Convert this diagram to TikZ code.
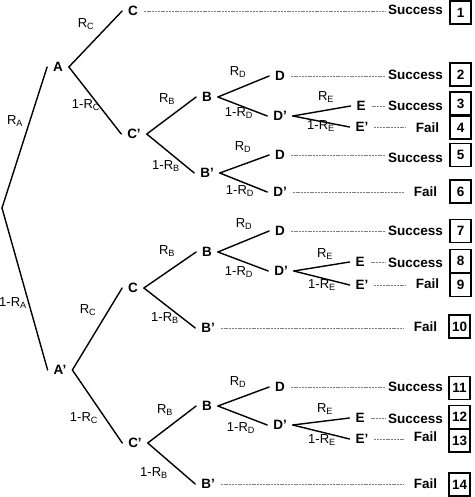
\documentclass[tikz,border=0pt]{standalone}
\usepackage{fontspec}
\setmainfont{Liberation Sans}
\newcommand{\rsub}[1]{R\textsubscript{#1}}
\tikzset{
  st/.style={font=\fontsize{13.5}{16}\selectfont\bfseries, inner sep=0pt, outer xsep=6pt, text height=9.7pt, text depth=0pt},
  pr/.style={font=\fontsize{13}{15}\selectfont, inner sep=0pt},
  br/.style={line width=1.4pt, line cap=round},
  dl/.style={draw=black!50, line width=0.7pt, dash pattern=on 2pt off 0.8pt},
  succ/.style={font=\fontsize{13.5}{16}\selectfont\bfseries, inner sep=0pt, outer xsep=3pt, anchor=east, text height=9.7pt, text depth=0pt},
  fail/.style={succ, outer xsep=10pt},
  num/.style={draw, line width=1.2pt, minimum width=21pt, minimum height=23pt, inner sep=0pt, font=\fontsize{13.5}{16}\selectfont\bfseries}
}
\begin{document}
\begin{tikzpicture}[x=1pt,y=-1pt]
\useasboundingbox (0,0) rectangle (474,497);
\coordinate (O) at (2,208);
% upper tree nodes
\node[st] (A) at (58,67) {A};
\node[st] (C1) at (133,11) {C};
\node[st] (C1p) at (134,134) {C’};
\node[st] (B1) at (207,97) {B};
\node[st] (B1p) at (207,173) {B’};
\node[st] (D1) at (280,76) {D};
\node[st] (D1p) at (280,116) {D’};
\node[st] (E1) at (361,106) {E};
\node[st] (E1p) at (362,127) {E’};
\node[st] (D2) at (280,155) {D};
\node[st] (D2p) at (280,192) {D’};
% lower tree nodes
\node[st] (Ap) at (60,370) {A’};
\node[st] (C2) at (133,288) {C};
\node[st] (C2p) at (135,443) {C’};
\node[st] (B2) at (207,252) {B};
\node[st] (B2p) at (208,328) {B’};
\node[st] (D3) at (280,231) {D};
\node[st] (D3p) at (281,271) {D’};
\node[st] (E3) at (360,262) {E};
\node[st] (E3p) at (362,285) {E’};
\node[st] (B3) at (207,406) {B};
\node[st] (B3p) at (208,484) {B’};
\node[st] (D4) at (280,387) {D};
\node[st] (D4p) at (280,425) {D’};
\node[st] (E4) at (360,418) {E};
\node[st] (E4p) at (362,439) {E’};
% branches
\draw[br] (O) -- (A.west);
\draw[br] (O) -- (Ap.west);
\draw[br] (A.east) -- (C1.west);
\draw[br] (A.east) -- (C1p.west);
\draw[br] (C1p.east) -- (B1.west);
\draw[br] (C1p.east) -- (B1p.west);
\draw[br] (B1.east) -- (D1.west);
\draw[br] (B1.east) -- (D1p.west);
\draw[br] (D1p.east) -- (E1.west);
\draw[br] (D1p.east) -- (E1p.west);
\draw[br] (B1p.east) -- (D2.west);
\draw[br] (B1p.east) -- (D2p.west);
\draw[br] (Ap.east) -- (C2.west);
\draw[br] (Ap.east) -- (C2p.west);
\draw[br] (C2.east) -- (B2.west);
\draw[br] (C2.east) -- (B2p.west);
\draw[br] (B2.east) -- (D3.west);
\draw[br] (B2.east) -- (D3p.west);
\draw[br] (D3p.east) -- (E3.west);
\draw[br] (D3p.east) -- (E3p.west);
\draw[br] (C2p.east) -- (B3.west);
\draw[br] (C2p.east) -- (B3p.west);
\draw[br] (B3.east) -- (D4.west);
\draw[br] (B3.east) -- (D4p.west);
\draw[br] (D4p.east) -- (E4.west);
\draw[br] (D4p.east) -- (E4p.west);
% edge labels
\node[pr] (lRA) at (15,121) {\rsub{A}};
\node[pr] (l1RA) at (13,303) {1-\rsub{A}};
\node[pr] (lRC1) at (86,24) {\rsub{C}};
\node[pr] (l1RC1) at (86,105) {1-\rsub{C}};
\node[pr] (lRB1) at (167,99) {\rsub{B}};
\node[pr] (l1RB1) at (166,166) {1-\rsub{B}};
\node[pr] (lRD1) at (238,72) {\rsub{D}};
\node[pr] (l1RD1) at (239,113) {1-\rsub{D}};
\node[pr] (lRE1) at (326,97) {\rsub{E}};
\node[pr] (l1RE1) at (321,126) {1-\rsub{E}};
\node[pr] (lRD2) at (243,147) {\rsub{D}};
\node[pr] (l1RD2) at (240,191) {1-\rsub{D}};
\node[pr] (lRC2) at (88,310) {\rsub{C}};
\node[pr] (l1RC2) at (84,418) {1-\rsub{C}};
\node[pr] (lRB2) at (167,251) {\rsub{B}};
\node[pr] (l1RB2) at (165,318) {1-\rsub{B}};
\node[pr] (lRD3) at (244,224) {\rsub{D}};
\node[pr] (l1RD3) at (239,272) {1-\rsub{D}};
\node[pr] (lRE3) at (325,254) {\rsub{E}};
\node[pr] (l1RE3) at (322,285) {1-\rsub{E}};
\node[pr] (lRB3) at (165,410) {\rsub{B}};
\node[pr] (l1RB3) at (154,473) {1-\rsub{B}};
\node[pr] (lRD4) at (238,382) {\rsub{D}};
\node[pr] (l1RD4) at (241,428) {1-\rsub{D}};
\node[pr] (lRE4) at (325,409) {\rsub{E}};
\node[pr] (l1RE4) at (322,440) {1-\rsub{E}};
% outcomes
\node[succ] (o1) at (446,10) {Success};
\node[succ] (o2) at (446,75) {Success};
\node[succ] (o3) at (446,106) {Success};
\node[fail] (o4) at (449,128) {Fail};
\node[succ] (o5) at (446,158) {Success};
\node[fail] (o6) at (447,192) {Fail};
\node[succ] (o7) at (446,231) {Success};
\node[succ] (o8) at (446,263) {Success};
\node[fail] (o9) at (449,284) {Fail};
\node[fail] (o10) at (447,327) {Fail};
\node[succ] (o11) at (446,387) {Success};
\node[succ] (o12) at (446,419) {Success};
\node[fail] (o13) at (447,437) {Fail};
\node[fail] (o14) at (447,484) {Fail};
% dotted leaders
\draw[dl] (C1.east) -- (C1.east -| o1.west);
\draw[dl] (D1.east) -- (D1.east -| o2.west);
\draw[dl] (E1.east) -- (E1.east -| o3.west);
\draw[dl] (E1p.east) -- (E1p.east -| o4.west);
\draw[dl] (D2.east) -- (D2.east -| o5.west);
\draw[dl] (D2p.east) -- (D2p.east -| o6.west);
\draw[dl] (D3.east) -- (D3.east -| o7.west);
\draw[dl] (E3.east) -- (E3.east -| o8.west);
\draw[dl] (E3p.east) -- (E3p.east -| o9.west);
\draw[dl] (B2p.east) -- (B2p.east -| o10.west);
\draw[dl] (D4.east) -- (D4.east -| o11.west);
\draw[dl] (E4.east) -- (E4.east -| o12.west);
\draw[dl] (E4p.east) -- (E4p.east -| o13.west);
\draw[dl] (B3p.east) -- (B3p.east -| o14.west);
% numbered boxes
\node[num] (n1) at (460.5,12.5) {1};
\node[num] (n2) at (460.5,74.5) {2};
\node[num] (n3) at (460.5,103.5) {3};
\node[num] (n4) at (460.5,127.5) {4};
\node[num] (n5) at (460.5,155) {5};
\node[num] (n6) at (460.5,191.5) {6};
\node[num] (n7) at (460.5,231) {7};
\node[num] (n8) at (460.5,261) {8};
\node[num] (n9) at (460.5,285) {9};
\node[num] (n10) at (459.5,326.5) {10};
\node[num] (n11) at (459.5,388) {11};
\node[num] (n12) at (459.5,417) {12};
\node[num] (n13) at (459.5,440.5) {13};
\node[num] (n14) at (459.5,484.5) {14};
\end{tikzpicture}
\end{document}
